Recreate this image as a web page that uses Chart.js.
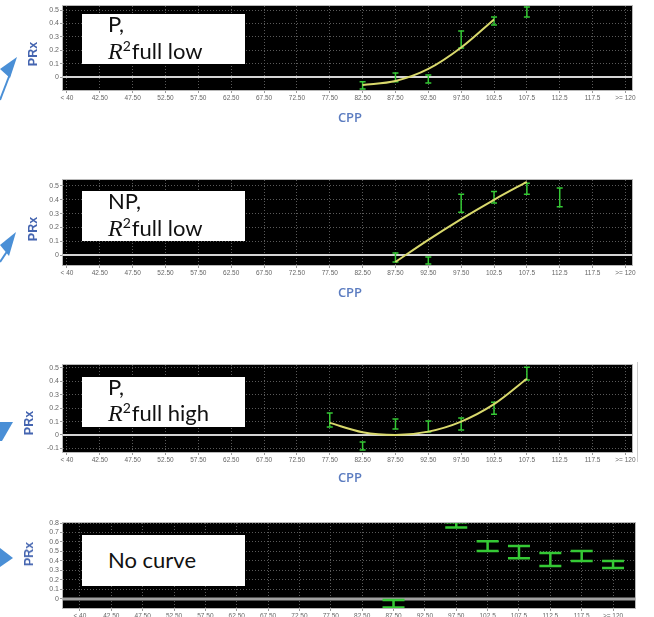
<!DOCTYPE html>
<html><head><meta charset="utf-8">
<script src="https://cdn.jsdelivr.net/npm/chart.js@4.4.1/dist/chart.umd.min.js"></script>
<style>
html,body{margin:0;padding:0;background:#fff}
body{width:654px;height:617px;overflow:hidden;position:relative}
canvas{position:absolute;left:0}
.box{position:absolute;left:82px;width:163px;height:50px;background:#fff}
.ln{position:absolute;left:26px;font-family:Lato,sans-serif;font-size:22px;line-height:22px;color:#111;white-space:nowrap}
.R{font-family:"Liberation Serif",serif;font-style:italic;font-size:24px}
.sup{font-size:14px;position:relative;top:-8px;margin-right:1px}
.prx{position:absolute;font-family:"Liberation Sans",sans-serif;font-weight:bold;font-size:12.5px;color:#4565b0;transform:translate(-50%,-50%) rotate(-90deg);white-space:nowrap}
.cpp{position:absolute;font-family:"Open Sans",sans-serif;font-size:13px;font-weight:600;color:#5b7cc0;transform:translate(-50%,-50%);white-space:nowrap}
</style></head><body>
<svg style="position:absolute;left:0;top:0" width="30" height="617">
  <line x1="0" y1="100" x2="10" y2="74" stroke="#4a8fd6" stroke-width="2"/>
  <polygon points="17,57 0,69 10,78" fill="#4a8fd6"/>
  <line x1="0" y1="262" x2="8" y2="250" stroke="#4a8fd6" stroke-width="2"/>
  <polygon points="16,232 0,245 9,256" fill="#4a8fd6"/>
  <polygon points="0,422 13,422 2,441 0,441" fill="#4a8fd6"/>
  <polygon points="0,548 13,558 0,567" fill="#4a8fd6"/>
</svg>
<div style="position:absolute;left:637px;top:362px;width:1px;height:100px;background:#ccc"></div>
<canvas id="c1" width="654" height="110" style="top:0px"></canvas>
<canvas id="c2" width="654" height="110" style="top:170px"></canvas>
<canvas id="c3" width="654" height="115" style="top:355px"></canvas>
<canvas id="c4" width="654" height="112" style="top:505px"></canvas>

<div class="box" style="top:14px"><div class="ln" style="top:-1px">P,</div><div class="ln" style="top:26px"><span class="R">R</span><span class="sup">2</span>full low</div></div>
<div class="box" style="top:191px"><div class="ln" style="top:-1px">NP,</div><div class="ln" style="top:26px"><span class="R">R</span><span class="sup">2</span>full low</div></div>
<div class="box" style="top:377px"><div class="ln" style="top:-1px">P,</div><div class="ln" style="top:25px"><span class="R">R</span><span class="sup">2</span>full high</div></div>
<div class="box" style="top:535px;height:51px"><div class="ln" style="top:14px">No curve</div></div>

<div class="prx" style="left:33px;top:54px">PRx</div>
<div class="prx" style="left:33px;top:229px">PRx</div>
<div class="prx" style="left:29px;top:423px">PRx</div>
<div class="prx" style="left:29px;top:554px">PRx</div>
<div class="cpp" style="left:350px;top:117px">CPP</div>
<div class="cpp" style="left:350px;top:292px">CPP</div>
<div class="cpp" style="left:350px;top:477px">CPP</div>

<script>
// ---- data ----
const cats = ['< 40','42.50','47.50','52.50','57.50','62.50','67.50','72.50','77.50','82.50','87.50','92.50','97.50','102.5','107.5','112.5','117.5','>= 120'];

// Panel 1: P, R2 full low
const p1YTicks = ['0','0.1','0.2','0.3','0.4','0.5'];
const p1ErrCats = ['82.50','87.50','92.50','97.50','102.5','107.5'];
const p1Mean = [-0.063, -0.003, -0.015, 0.28, 0.418, 0.485];
const p1Err  = [0.027, 0.033, 0.030, 0.063, 0.030, 0.037];
const p1CurveCats = ['82.50','87.50','92.50','97.50','102.5'];
const p1Curve = [-0.06, -0.03, 0.06, 0.22, 0.43];

// Panel 2: NP, R2 full low
const p2YTicks = ['0','0.1','0.2','0.3','0.4','0.5'];
const p2ErrCats = ['87.50','92.50','97.50','102.5','107.5','112.5'];
const p2Mean = [-0.018, -0.040, 0.375, 0.418, 0.480, 0.418];
const p2Err  = [0.032, 0.025, 0.065, 0.042, 0.040, 0.068];
const p2CurveCats = ['87.50','92.50','97.50','102.5','107.5'];
const p2Curve = [-0.05, 0.11, 0.26, 0.40, 0.53];

// Panel 3: P, R2 full high
const p3YTicks = ['-0.1','0','0.1','0.2','0.3','0.4','0.5'];
const p3ErrCats = ['77.50','82.50','87.50','92.50','97.50','102.5','107.5'];
const p3Mean = [0.112, -0.082, 0.082, 0.063, 0.082, 0.200, 0.458];
const p3Err  = [0.052, 0.030, 0.037, 0.041, 0.045, 0.045, 0.048];
const p3CurveCats = ['77.50','82.50','87.50','92.50','97.50','102.5','107.5'];
const p3Curve = [0.09, 0.02, 0.0, 0.025, 0.10, 0.23, 0.42];

// Panel 4: No curve
const p4YTicks = ['0','0.1','0.2','0.3','0.4','0.5','0.6','0.7','0.8'];
const p4ErrCats = ['87.50','97.50','102.5','107.5','112.5','117.5','>= 120'];
const p4Mean = [-0.050, 0.780, 0.557, 0.494, 0.415, 0.452, 0.363];
const p4Err  = [0.040, 0.028, 0.052, 0.064, 0.068, 0.052, 0.037];

// ---- drawing ----
Chart.defaults.font.family = "'Liberation Sans', Arial, sans-serif";

const panelPlugin = {
  id: 'panel',
  beforeDraw(chart) {
    const {ctx, chartArea: a} = chart;
    ctx.save();
    ctx.fillStyle = '#000';
    ctx.fillRect(a.left, a.top, a.right - a.left, a.bottom - a.top);
    ctx.restore();
  },
  beforeDatasetsDraw(chart) {
    const o = chart.options.plugins.panel;
    const {ctx, chartArea: a} = chart;
    const xs = chart.scales.x, ys = chart.scales.y;
    ctx.save();
    ctx.beginPath();
    ctx.rect(a.left, a.top, a.right - a.left, a.bottom - a.top);
    ctx.clip();
    const y0 = ys.getPixelForValue(0);
    ctx.strokeStyle = o.zeroColor; ctx.lineWidth = o.zeroWidth;
    ctx.beginPath(); ctx.moveTo(a.left, y0); ctx.lineTo(a.right, y0); ctx.stroke();
    ctx.strokeStyle = '#35c935'; ctx.lineWidth = o.errWidth;
    o.errCats.forEach((c, i) => {
      const x = xs.getPixelForValue(cats.indexOf(c));
      const yl = ys.getPixelForValue(o.mean[i] - o.err[i]);
      const yh = ys.getPixelForValue(o.mean[i] + o.err[i]);
      ctx.beginPath();
      ctx.moveTo(x, yl); ctx.lineTo(x, yh);
      ctx.moveTo(x - o.capW / 2, yl); ctx.lineTo(x + o.capW / 2, yl);
      ctx.moveTo(x - o.capW / 2, yh); ctx.lineTo(x + o.capW / 2, yh);
      ctx.stroke();
    });
    ctx.restore();
  },
  afterDraw(chart) {
    const {ctx, chartArea: a} = chart;
    ctx.save();
    ctx.strokeStyle = '#b8b8b8'; ctx.lineWidth = 1;
    ctx.strokeRect(a.left - 0.5, a.top - 0.5, a.right - a.left + 1, a.bottom - a.top + 1);
    ctx.restore();
  }
};

function makePanel(id, p) {
  const cv = document.getElementById(id);
  const H = cv.height;
  const datasets = [];
  if (p.curveCats) {
    datasets.push({
      data: p.curveCats.map((c, i) => ({x: cats.indexOf(c), y: p.curve[i]})),
      showLine: true, borderColor: '#d9d96c', borderWidth: 2, pointRadius: 0,
      cubicInterpolationMode: 'monotone', fill: false
    });
  }
  datasets.push({
    data: p.errCats.map((c, i) => ({x: cats.indexOf(c), y: p.mean[i]})),
    pointRadius: 0, showLine: false
  });
  const gridCommon = {color: '#5a5a5a', lineWidth: 1, borderDash: [1, 2], tickBorderDash: [], tickColor: '#999', tickLength: 3, tickWidth: 1};
  new Chart(cv, {
    type: 'scatter',
    data: {datasets},
    options: {
      responsive: false, animation: false, events: [],
      layout: {padding: {left: 0, right: 654 - p.right, top: p.top, bottom: 0}},
      plugins: {
        legend: {display: false}, tooltip: {enabled: false},
        panel: {zeroColor: p.zeroColor, zeroWidth: p.zeroWidth, errWidth: p.errWidth, capW: p.capW,
                errCats: p.errCats, mean: p.mean, err: p.err}
      },
      scales: {
        x: {
          type: 'linear', min: p.xmin, max: p.xmax, bounds: 'data',
          afterFit: s => { s.height = H - p.bottom; },
          afterBuildTicks: s => { s.ticks = cats.map((c, i) => ({value: i})); },
          ticks: {callback: (v, i) => cats[i], autoSkip: false, maxRotation: 0, minRotation: 0,
                  font: {size: 6.5}, color: '#666', padding: 1},
          grid: gridCommon,
          border: {display: false, dash: [1, 2]}
        },
        y: {
          type: 'linear', min: p.ymin, max: p.ymax, bounds: 'data',
          afterFit: s => { s.width = p.left; },
          afterBuildTicks: s => { s.ticks = p.yTicks.map(t => ({value: parseFloat(t)})); },
          ticks: {callback: (v, i) => p.yTicks[i], autoSkip: false, font: {size: 7}, color: '#666', padding: 1},
          grid: gridCommon,
          border: {display: false, dash: [1, 2]}
        }
      }
    },
    plugins: [panelPlugin]
  });
}

makePanel('c1', {top: 6, bottom: 90, left: 63, right: 632, xmin: -0.12, xmax: 17.2, ymin: -0.097, ymax: 0.53,
  yTicks: p1YTicks, errCats: p1ErrCats, mean: p1Mean, err: p1Err, curveCats: p1CurveCats, curve: p1Curve,
  zeroColor: '#d4d4d4', zeroWidth: 2, errWidth: 1.5, capW: 6});
makePanel('c2', {top: 10, bottom: 95, left: 63, right: 632, xmin: -0.12, xmax: 17.2, ymin: -0.072, ymax: 0.543,
  yTicks: p2YTicks, errCats: p2ErrCats, mean: p2Mean, err: p2Err, curveCats: p2CurveCats, curve: p2Curve,
  zeroColor: '#d4d4d4', zeroWidth: 2, errWidth: 1.5, capW: 6});
makePanel('c3', {top: 10, bottom: 97, left: 63, right: 632, xmin: -0.12, xmax: 17.2, ymin: -0.127, ymax: 0.522,
  yTicks: p3YTicks, errCats: p3ErrCats, mean: p3Mean, err: p3Err, curveCats: p3CurveCats, curve: p3Curve,
  zeroColor: '#d4d4d4', zeroWidth: 2, errWidth: 1.5, capW: 6});
makePanel('c4', {top: 18, bottom: 103, left: 63, right: 635, xmin: -0.54, xmax: 17.7, ymin: -0.095, ymax: 0.8,
  yTicks: p4YTicks, errCats: p4ErrCats, mean: p4Mean, err: p4Err,
  zeroColor: '#a0a0a0', zeroWidth: 3, errWidth: 2.5, capW: 22});
</script>
</body></html>
